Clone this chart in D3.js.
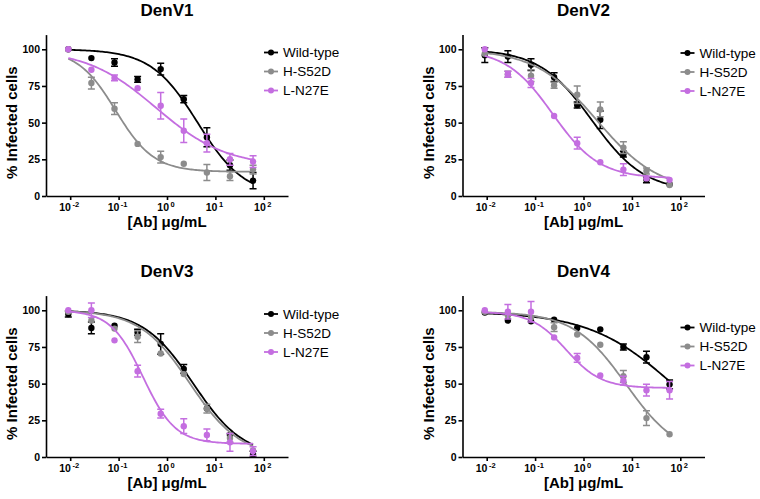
<!doctype html>
<html>
<head>
<meta charset="utf-8">
<title>DenV neutralization</title>
<style>
*{margin:0;padding:0;}
body{background:white;}
svg{font-family:"Liberation Sans",Arial,sans-serif;}
</style>
</head>
<body>
<script src="https://cdn.jsdelivr.net/npm/d3@7"></script>
<script>
// 3-fold dilutions, ug/mL
var doses = [0.00914, 0.0274, 0.0823, 0.247, 0.741, 2.22, 6.67, 20, 60];
var panels = ["DenV1", "DenV2", "DenV3", "DenV4"];
var seriesNames = ["Wild-type", "H-S52D", "L-N27E"];
var colors = ["#000000", "#8c8c8c", "#c46ee0"];
var yTicks = [0, 25, 50, 75, 100];
var xExponents = [-2, -1, 0, 1, 2];

// mean % infected, one row per series (Wild-type, H-S52D, L-N27E)
var denv1Mean = [
  [100, 94, 91, 79.5, 86.5, 66, 40, 21, 10.5],
  [100, 77, 59.5, 35.5, 26.5, 22, 16, 13.5, 18],
  [100, 86, 80.5, 73.5, 61.5, 44.5, 36, 25, 23.5]
];
var denv1Err = [
  [0, 0, 2.5, 2, 4, 2.5, 6.5, 3.5, 5.5],
  [0, 4, 4, 0, 4, 0, 5.5, 3, 3],
  [0, 0, 2, 0, 9, 8, 6, 4, 4]
];
var denv2Mean = [
  [96, 95, 89.5, 81, 62, 52, 28.5, 11, 8],
  [97, 83, 82, 75.5, 69, 59, 33, 17, 7.5],
  [100, 83, 77, 54.5, 36, 23, 18, 12, 11]
];
var denv2Err = [
  [5, 4, 4, 3, 2, 6, 2, 2, 0],
  [0, 2, 4, 2, 6, 5, 4, 2, 0],
  [0, 2, 3, 0, 4, 0, 4, 0, 0]
];
var denv3Mean = [
  [97.5, 88, 89.5, 85, 77, 60, 33, 15, 2],
  [99, 93, 87.5, 82, 70.5, 56.5, 33, 13, 4.5],
  [100, 100, 79.5, 58.5, 29.5, 21, 15, 10, 4]
];
var denv3Err = [
  [2, 4, 0, 2, 7, 3, 0, 0, 2],
  [0, 0, 0, 4, 0, 0, 3, 3, 0],
  [0, 5, 0, 4, 3, 5, 4, 6, 3]
];
var denv4Mean = [
  [98.5, 93, 92.5, 93.5, 88, 87, 75, 68, 49.5],
  [99, 96.5, 95, 88.5, 83.5, 76.5, 55, 26.5, 15.5],
  [100, 99, 99, 81.5, 67.5, 55.5, 52, 45.5, 45.5]
];
var denv4Err = [
  [0, 0, 0, 0, 0, 0, 2, 4, 3],
  [0, 0, 0, 3, 0, 0, 4, 5, 0],
  [0, 5, 7, 0, 3, 0, 3, 4, 6]
];

// fitted curve parameters: top, bottom, EC50, hill slope
var denv1Fit = [[100, 0, 4.3, 0.9], [100, 16.5, 0.087, 1.1], [100, 20, 0.6, 0.6]];
var denv2Fit = [[100, 3, 1.5, 0.8], [100, 3, 1.9, 0.68], [100, 12, 0.23, 0.9]];
var denv3Fit = [[100, 0, 3.5, 0.84], [100, 0, 3.0, 0.84], [100, 9, 0.32, 1.3]];
var denv4Fit = [[99, 0, 71, 0.5], [99, 0, 7.6, 0.8], [99, 47, 0.44, 1.2]];

var allMean = [denv1Mean, denv2Mean, denv3Mean, denv4Mean];
var allErr = [denv1Err, denv2Err, denv3Err, denv4Err];
var allFit = [denv1Fit, denv2Fit, denv3Fit, denv4Fit];

// panel placement
var panelLeft = [46, 462.5, 46, 462.5];
var panelBottom = [196, 196, 457, 457];
var legendTop = [52.5, 53, 314, 327.5];
var plotW = 242, plotH = 161.4;

var svg = d3.select("body").append("svg")
  .attr("width", 760).attr("height", 499);

var x = d3.scaleLog().domain([Math.pow(10, -2.5), Math.pow(10, 2.5)]).range([0, plotW]);
var y = d3.scaleLinear().domain([0, 110]).range([plotH, 0]);

function logistic(p, c) {
  return p[1] + (p[0] - p[1]) / (1 + Math.pow(c / p[2], p[3]));
}

var line = d3.line().x(function(d) { return x(d[0]); }).y(function(d) { return y(d[1]); });

panels.forEach(function(name, pi) {
  var g = svg.append("g")
    .attr("transform", "translate(" + panelLeft[pi] + "," + (panelBottom[pi] - plotH) + ")");

  // title
  g.append("text").attr("x", plotW / 2).attr("y", plotH - 180)
    .attr("text-anchor", "middle").attr("font-size", "17px").attr("font-weight", "bold")
    .text(name);

  // y axis
  var ya = g.append("g").call(d3.axisLeft(y).tickValues(yTicks).tickSize(4).tickSizeOuter(0).tickPadding(2));
  ya.selectAll("text").attr("font-size", "10.5px").attr("font-weight", "bold")
    .attr("font-family", "Liberation Sans, Arial, sans-serif").attr("fill", "#000");

  // x axis
  var xa = g.append("g").attr("transform", "translate(0," + plotH + ")")
    .call(d3.axisBottom(x).tickValues(xExponents.map(function(e) { return Math.pow(10, e); }))
      .tickSize(4).tickSizeOuter(0).tickFormat(""));
  xExponents.forEach(function(e) {
    var t = g.append("text").attr("x", x(Math.pow(10, e)) - 1).attr("y", plotH + 15)
      .attr("text-anchor", "middle").attr("font-size", "10.5px").attr("font-weight", "bold");
    t.append("tspan").text("10");
    t.append("tspan").attr("dy", -4).attr("dx", 1.5).attr("font-size", "7.5px").text(e < 0 ? "-" + (-e) : e);
  });

  [ya, xa].forEach(function(a) {
    a.selectAll("path, line").attr("stroke", "#000").attr("stroke-width", 1.6);
  });

  // axis titles
  g.append("text").attr("x", plotW / 2).attr("y", plotH + 31)
    .attr("text-anchor", "middle").attr("font-size", "15px").attr("font-weight", "bold")
    .text("[Ab] μg/mL");
  g.append("text")
    .attr("transform", "translate(-34," + (y(0) + y(100)) / 2 + ") rotate(-90)")
    .attr("text-anchor", "middle").attr("dy", "0.35em").attr("font-size", "15px").attr("font-weight", "bold")
    .text("% Infected cells");

  seriesNames.forEach(function(s, si) {
    var col = colors[si];
    var p = allFit[pi][si];
    var lo = Math.log10(doses[0]), hi = Math.log10(doses[doses.length - 1]);
    var pts = d3.range(0, 121).map(function(i) {
      var c = Math.pow(10, lo + (hi - lo) * i / 120);
      return [c, logistic(p, c)];
    });
    g.append("path").attr("d", line(pts)).attr("fill", "none")
      .attr("stroke", col).attr("stroke-width", 1.8);

    var means = allMean[pi][si], errs = allErr[pi][si];
    doses.forEach(function(c, i) {
      var cx = x(c), m = means[i], e = errs[i];
      if (e > 0) {
        g.append("path")
          .attr("d", "M" + cx + "," + y(m - e) + "V" + y(m + e) +
            "M" + (cx - 3.5) + "," + y(m - e) + "H" + (cx + 3.5) +
            "M" + (cx - 3.5) + "," + y(m + e) + "H" + (cx + 3.5))
          .attr("stroke", col).attr("stroke-width", 1.5).attr("fill", "none");
      }
      g.append("circle").attr("cx", cx).attr("cy", y(m)).attr("r", 3.2).attr("fill", col);
    });

    // legend
    var ly = legendTop[pi] - (panelBottom[pi] - plotH) + si * 19;
    g.append("line").attr("x1", 218).attr("x2", 232).attr("y1", ly).attr("y2", ly)
      .attr("stroke", col).attr("stroke-width", 1.8);
    g.append("circle").attr("cx", 225).attr("cy", ly).attr("r", 3).attr("fill", col);
    g.append("text").attr("x", 237).attr("y", ly).attr("dy", "0.35em")
      .attr("font-size", "13.5px").text(s);
  });
});
</script>
</body>
</html>
